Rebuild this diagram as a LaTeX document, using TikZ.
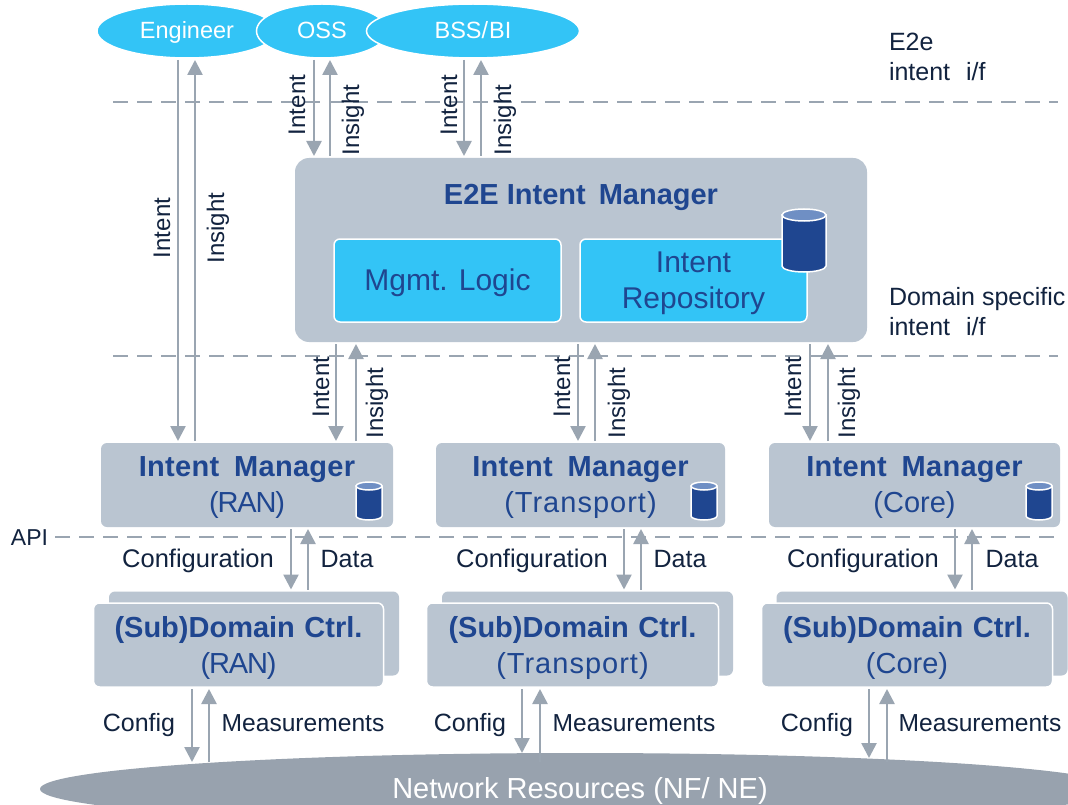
\documentclass[tikz,border=0pt]{standalone}
\usepackage{fontspec}
\setmainfont{Liberation Sans}
\usetikzlibrary{arrows.meta,shapes.geometric,positioning}
\definecolor{boxgray}{HTML}{BAC5D1}
\definecolor{cyanb}{HTML}{33C4F6}
\definecolor{netgray}{HTML}{98A2AE}
\definecolor{linegray}{HTML}{9AA5B1}
\definecolor{navyt}{HTML}{1F4690}
\definecolor{darkt}{HTML}{12233F}
\definecolor{cyltop}{HTML}{6F8FC4}
\newcommand{\fs}[2]{\fontsize{#1}{#2}\selectfont}
\newcommand{\tightt}{\addfontfeature{LetterSpace=-4}}
\newcommand{\widet}{\addfontfeature{LetterSpace=3.5}}
% cylinder: centre x, top y, half width, height, end-ellipse half height
\newcommand{\dbcyl}[5]{%
  \path[fill=navyt,draw=white,line width=1.5pt] (#1-#3,#2) -- (#1-#3,#2+#4-#5) arc[start angle=180,end angle=0,x radius=#3,y radius=#5] -- (#1+#3,#2) -- cycle;
  \path[fill=cyltop,draw=white,line width=1.5pt] (#1,#2) ellipse[x radius=#3,y radius=#5];
}
\tikzset{
  every node/.style={inner sep=0pt,outer sep=0pt},
  actor/.style={ellipse,fill=cyanb,draw=white,line width=1.5pt,minimum height=54pt},
  actorlab/.style={text=white,font=\fs{23.5}{28},text height=19pt,text depth=3pt},
  mainbox/.style={rectangle,rounded corners=14pt,fill=boxgray,minimum width=572pt,minimum height=184pt},
  innerbox/.style={rectangle,rounded corners=6pt,fill=cyanb,draw=white,line width=1.5pt,minimum width=227pt,minimum height=83pt},
  innerlab/.style={text=navyt,align=center,font=\fs{30}{36}},
  graybox/.style={rectangle,rounded corners=6pt,fill=boxgray,minimum height=84pt},
  frontbox/.style={graybox,draw=white,line width=1.5pt},
  boxlab/.style={text=navyt,align=center,font=\fs{29}{36}},
  arr/.style={draw=linegray,line width=2.6pt,-{Triangle[width=15pt,length=15pt]},shorten >=2pt,shorten <=2pt},
  dashline/.style={draw=linegray,line width=2pt,dash pattern=on 15pt off 9pt},
  lab/.style={text=darkt,font=\fs{25}{30},text height=19pt,text depth=3pt},
  mlab/.style={text=darkt,font=\fs{24.6}{30},text height=19pt,text depth=3pt},
  vlab/.style={text=darkt,font=\fs{24}{30},text height=19pt,text depth=3pt,rotate=90},
  note/.style={text=darkt,font=\fs{25}{30},align=left,anchor=west},
}
\newcommand{\gapw}{\hspace{15pt}}
\newcommand{\imtitle}{{\bfseries\addfontfeature{LetterSpace=1}Intent\gapw Manager}}
\newcommand{\subtitle}{{\bfseries (Sub)Domain\hspace{1.5pt} Ctrl.}}
\begin{document}
\begin{tikzpicture}[x=1pt,y=-1pt]
\path[use as bounding box,fill=white] (0,0) rectangle (1068,805);
% dashed levels
\coordinate (d1a) at (113,102); \coordinate (d1b) at (1058,102);
\coordinate (d2a) at (113,356); \coordinate (d2b) at (1058,356);
\coordinate (d3a) at (55,537);  \coordinate (d3b) at (1058,537);
\draw[dashline] (d1a) -- (d1b);
\draw[dashline] (d2a) -- (d2b);
\draw[dashline] (d3a) -- (d3b);
% actors
\node[actor,minimum width=180pt,label={[actorlab]center:Engineer}] (eng) at (187,31) {};
\node[actor,minimum width=131pt,label={[actorlab]center:OSS}] (oss) at (322,31) {};
\node[actor,minimum width=213pt,label={[actorlab]center:BSS/\hspace{1pt}BI}] (bss) at (473,31) {};
% E2E manager
\node[mainbox] (e2e) at (581,250) {};
\node[text=navyt,font=\fs{29}{34}\bfseries] (e2et) at (581,197) {E2E Intent\hspace{13pt}Manager};
\node[innerbox,label={[innerlab,yshift=-2pt]center:Mgmt. Logic}] (mgmt) at (447.5,280.5) {};
\node[innerbox,label={[innerlab,yshift=-3pt]center:{Intent\\Repository}}] (repo) at (693.5,280.5) {};
\dbcyl{804}{215}{22}{57}{6}
% domain intent managers
\node[graybox,minimum width=292pt,label={[boxlab,yshift=-2.5pt]center:{\imtitle\\{\tightt(RAN)}}}] (imr) at (247,485) {};
\node[graybox,minimum width=289pt,label={[boxlab,yshift=-2.5pt]center:{\imtitle\\{\widet(Transport)}}}] (imt) at (580.5,485) {};
\node[graybox,minimum width=291pt,label={[boxlab,yshift=-2.5pt]center:{\imtitle\\(Core)}}] (imc) at (914.5,485) {};
\dbcyl{369}{486}{13}{34}{4}
\dbcyl{704}{486}{13}{34}{4}
\dbcyl{1039}{486}{13}{34}{4}
% controllers
\node[graybox,minimum width=290pt] (br) at (254,633.5) {};
\node[graybox,minimum width=291pt] (bt) at (587.5,633.5) {};
\node[graybox,minimum width=291pt] (bc) at (922,633.5) {};
\node[frontbox,minimum width=290pt,label={[boxlab,yshift=-2.5pt]center:{\subtitle\\{\tightt(RAN)}}}] (sr) at (238.5,645) {};
\node[frontbox,minimum width=292pt,label={[boxlab,yshift=-2.5pt]center:{\subtitle\\{\widet(Transport)}}}] (st) at (572.5,645) {};
\node[frontbox,minimum width=291pt,label={[boxlab,yshift=-2.5pt]center:{\subtitle\\(Core)}}] (sc) at (907,645) {};
% free ends on the network ellipse
\coordinate (n1a) at (192,764); \coordinate (n1b) at (209,764);
\coordinate (n2a) at (522,755); \coordinate (n2b) at (540,764);
\coordinate (n3a) at (869,760); \coordinate (n3b) at (887,764);
% connectors
\draw[arr] ([xshift=-9pt]eng.south) -- ([xshift=-69pt]imr.north);
\draw[arr] ([xshift=-52pt]imr.north) -- ([xshift=8pt]eng.south);
\draw[arr] ([xshift=-8pt]oss.south) -- ([xshift=-267pt]e2e.north);
\draw[arr] ([xshift=-251pt]e2e.north) -- ([xshift=8pt]oss.south);
\draw[arr] ([xshift=-9pt]bss.south) -- ([xshift=-117pt]e2e.north);
\draw[arr] ([xshift=-100pt]e2e.north) -- ([xshift=8pt]bss.south);
\draw[arr] ([xshift=-245pt]e2e.south) -- ([xshift=89pt]imr.north);
\draw[arr] ([xshift=109pt]imr.north) -- ([xshift=-225pt]e2e.south);
\draw[arr] ([xshift=-3pt]e2e.south) -- ([xshift=-2.5pt]imt.north);
\draw[arr] ([xshift=14.5pt]imt.north) -- ([xshift=14pt]e2e.south);
\draw[arr] ([xshift=229pt]e2e.south) -- ([xshift=-104.5pt]imc.north);
\draw[arr] ([xshift=-86.5pt]imc.north) -- ([xshift=247pt]e2e.south);
\draw[arr] ([xshift=44pt]imr.south) -- ([xshift=37pt]br.north);
\draw[arr] ([xshift=54pt]br.north) -- ([xshift=61pt]imr.south);
\draw[arr] ([xshift=43.5pt]imt.south) -- ([xshift=36.5pt]bt.north);
\draw[arr] ([xshift=53.5pt]bt.north) -- ([xshift=60.5pt]imt.south);
\draw[arr] ([xshift=40.5pt]imc.south) -- ([xshift=33pt]bc.north);
\draw[arr] ([xshift=50pt]bc.north) -- ([xshift=57.5pt]imc.south);
% network
\begin{scope}
\clip (0,0) rectangle (1068,805);
\node[ellipse,fill=netgray,minimum width=1080pt,minimum height=72pt,text=white,font=\fs{29}{34},text height=21pt,text depth=2pt] (net) at (580,789) {Network Resources (NF/ NE)};
\end{scope}
\draw[arr] ([xshift=-46.5pt]sr.south) -- (n1a);
\draw[arr] (n1b) -- ([xshift=-29.5pt]sr.south);
\draw[arr] ([xshift=-50.5pt]st.south) -- (n2a);
\draw[arr] (n2b) -- ([xshift=-32.5pt]st.south);
\draw[arr] ([xshift=-38pt]sc.south) -- (n3a);
\draw[arr] (n3b) -- ([xshift=-20pt]sc.south);
% labels
\node[vlab] (l1) at (162,228) {Intent};
\node[vlab] (l2) at (216,228) {Insight};
\node[vlab] (l3) at (297,105) {Intent};
\node[vlab] (l4) at (351,120) {Insight};
\node[vlab] (l5) at (449,105) {Intent};
\node[vlab] (l6) at (503,120) {Insight};
\node[vlab] (l7) at (321,387) {Intent};
\node[vlab] (l8) at (375,403) {Insight};
\node[vlab] (l9) at (562,387) {Intent};
\node[vlab] (l10) at (617,403) {Insight};
\node[vlab] (l11) at (793,387) {Intent};
\node[vlab] (l12) at (847,403) {Insight};
\node[lab] (c1) at (198,559) {\fontsize{25.5}{30}\selectfont Configuration};
\node[lab] (c2) at (347,559) {Data};
\node[lab] (c3) at (532,559) {\fontsize{25.5}{30}\selectfont Configuration};
\node[lab] (c4) at (680,559) {Data};
\node[lab] (c5) at (863,559) {\fontsize{25.5}{30}\selectfont Configuration};
\node[lab] (c6) at (1012,559) {Data};
\node[lab] (m1) at (139,723) {Config};
\node[mlab] (m2) at (303,723) {Measurements};
\node[lab] (m3) at (470,723) {Config};
\node[mlab] (m4) at (634,723) {Measurements};
\node[lab] (m5) at (817,723) {Config};
\node[mlab] (m6) at (980,723) {Measurements};
\node[lab,font=\fs{23}{30}] (api) at (29.5,537) {API};
\node[note] (n1) at (889,57) {E2e\\intent\hspace{9pt} i/f};
\node[note] (n2) at (889,312) {Domain specific\\intent\hspace{9pt} i/f};
\end{tikzpicture}
\end{document}
